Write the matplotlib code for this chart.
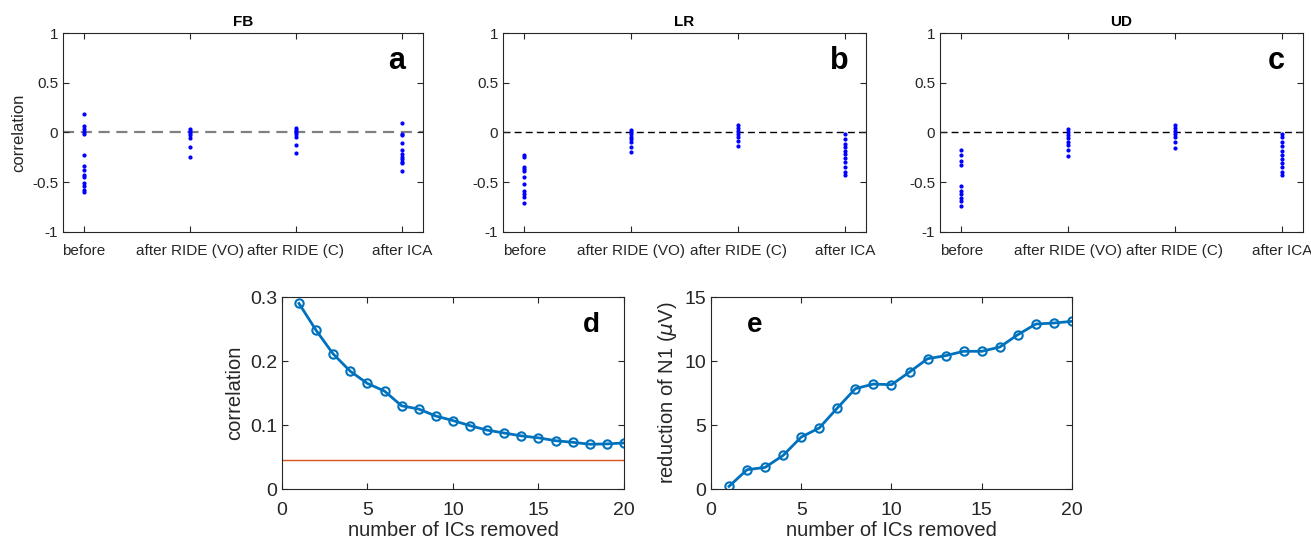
import numpy as np
import matplotlib
matplotlib.use('Agg')
import matplotlib.pyplot as plt

# ------------------------------------------------------------------
# data
# ------------------------------------------------------------------
conditions = ['before', 'after RIDE (VO)', 'after RIDE (C)', 'after ICA']

fb_before = [0.185, 0.07, 0.035, 0.005, -0.012, -0.23, -0.335, -0.375, -0.43, -0.45, -0.505, -0.54, -0.575, -0.6]
fb_vo = [0.04, 0.02, -0.005, -0.03, -0.055, -0.145, -0.245]
fb_c = [0.045, 0.025, 0.0, -0.02, -0.045, -0.13, -0.21]
fb_ica = [0.1, -0.015, -0.03, -0.11, -0.18, -0.22, -0.245, -0.27, -0.295, -0.31, -0.385]

lr_before = [-0.225, -0.245, -0.35, -0.37, -0.385, -0.445, -0.515, -0.585, -0.615, -0.65, -0.705]
lr_vo = [0.025, 0.0, -0.015, -0.045, -0.065, -0.1, -0.15, -0.2]
lr_c = [0.075, 0.045, 0.015, -0.015, -0.05, -0.085, -0.135]
lr_ica = [-0.015, -0.065, -0.115, -0.15, -0.185, -0.215, -0.26, -0.295, -0.345, -0.4, -0.425]

ud_before = [-0.175, -0.225, -0.285, -0.325, -0.535, -0.585, -0.615, -0.655, -0.685, -0.735]
ud_vo = [0.035, 0.0, -0.025, -0.06, -0.095, -0.125, -0.175, -0.235]
ud_c = [0.075, 0.05, 0.015, -0.015, -0.05, -0.095, -0.155]
ud_ica = [-0.015, -0.05, -0.1, -0.135, -0.185, -0.225, -0.265, -0.305, -0.35, -0.395, -0.425]

n_ics = list(range(1, 21))
corr_d = [0.290, 0.248, 0.211, 0.184, 0.165, 0.153, 0.130, 0.125, 0.114, 0.107,
          0.099, 0.092, 0.0875, 0.083, 0.080, 0.0755, 0.073, 0.070, 0.0705, 0.072]
corr_ref = 0.0453
n1_reduction = [0.21, 1.51, 1.69, 2.63, 4.06, 4.77, 6.33, 7.84, 8.2, 8.15,
                9.14, 10.18, 10.42, 10.76, 10.76, 11.09, 12.06, 12.89, 12.97, 13.1]

# ------------------------------------------------------------------
# style
# ------------------------------------------------------------------
plt.rcParams['font.family'] = ['Liberation Sans', 'DejaVu Sans']
plt.rcParams['mathtext.fontset'] = 'dejavusans'
dark = '#262626'
mblue = '#0072BD'
morange = '#D95319'

fig = plt.figure(figsize=(13.11, 5.43), dpi=100)


def style_axes(ax, fs, xpad):
    for s in ax.spines.values():
        s.set_color(dark)
        s.set_linewidth(0.8)
    ax.tick_params(direction='in', top=True, right=True, colors=dark,
                   labelsize=fs, length=4, width=0.8)
    ax.tick_params(axis='x', pad=xpad)


# ------------------------------------------------------------------
# top row: correlation scatter per condition
# ------------------------------------------------------------------
top_panels = [
    ('FB', 'a', [fb_before, fb_vo, fb_c, fb_ica], [0.048, 0.573, 0.2746, 0.366], '#808080', 1.6),
    ('LR', 'b', [lr_before, lr_vo, lr_c, lr_ica], [0.3837, 0.573, 0.277, 0.366], 'black', 1.0),
    ('UD', 'c', [ud_before, ud_vo, ud_c, ud_ica], [0.717, 0.573, 0.277, 0.366], 'black', 1.0),
]

for title, letter, groups, pos, dcol, dlw in top_panels:
    ax = fig.add_axes(pos)
    ax.axhline(0, color=dcol, linestyle=(0, (5, 3)), linewidth=dlw, zorder=1)
    for i, vals in enumerate(groups):
        ax.plot(np.full(len(vals), i + 1), vals, '.', color='blue', markersize=4, zorder=2)
    ax.set_xlim(0.8, 4.2)
    ax.set_ylim(-1, 1)
    ax.set_xticks([1, 2, 3, 4])
    ax.set_xticklabels(conditions)
    ax.set_yticks([-1, -0.5, 0, 0.5, 1])
    ax.set_yticklabels(['-1', '-0.5', '0', '0.5', '1'])
    style_axes(ax, 11, 9)
    ax.set_title(title, fontsize=11, fontweight='bold', pad=5)
    ax.text(0.926, 0.86, letter, transform=ax.transAxes, fontsize=22,
            fontweight='bold', ha='center', va='center')
    if letter == 'a':
        ax.set_ylabel('correlation', fontsize=12, color=dark)

# ------------------------------------------------------------------
# panel d: correlation vs number of ICs removed
# ------------------------------------------------------------------
axd = fig.add_axes([0.215, 0.0994, 0.261, 0.3536])
axd.axhline(corr_ref, color=morange, linewidth=1.0)
axd.plot(n_ics, corr_d, '-o', color=mblue, linewidth=2, markersize=6,
         markerfacecolor='none', markeredgewidth=1.5)
axd.set_xlim(0, 20)
axd.set_ylim(0, 0.3)
axd.set_xticks([0, 5, 10, 15, 20])
axd.set_yticks([0, 0.1, 0.2, 0.3])
axd.set_yticklabels(['0', '0.1', '0.2', '0.3'])
style_axes(axd, 14, 9)
axd.set_xlabel('number of ICs removed', fontsize=14.5, color=dark, labelpad=2)
axd.set_ylabel('correlation', fontsize=14.5, color=dark)
axd.text(0.906, 0.854, 'd', transform=axd.transAxes, fontsize=20,
         fontweight='bold', ha='center', va='center')

# ------------------------------------------------------------------
# panel e: reduction of N1
# ------------------------------------------------------------------
axe = fig.add_axes([0.5423, 0.0994, 0.2754, 0.3536])
axe.plot(n_ics, n1_reduction, '-o', color=mblue, linewidth=2, markersize=6,
         markerfacecolor='none', markeredgewidth=1.5)
axe.set_xlim(0, 20)
axe.set_ylim(0, 15)
axe.set_xticks([0, 5, 10, 15, 20])
axe.set_yticks([0, 5, 10, 15])
style_axes(axe, 14, 9)
axe.set_xlabel('number of ICs removed', fontsize=14.5, color=dark, labelpad=2)
axe.set_ylabel(r'reduction of N1 ($\mu$V)', fontsize=14.5, color=dark)
axe.text(0.122, 0.854, 'e', transform=axe.transAxes, fontsize=20,
         fontweight='bold', ha='center', va='center')

fig.savefig('out.png', dpi=100)
